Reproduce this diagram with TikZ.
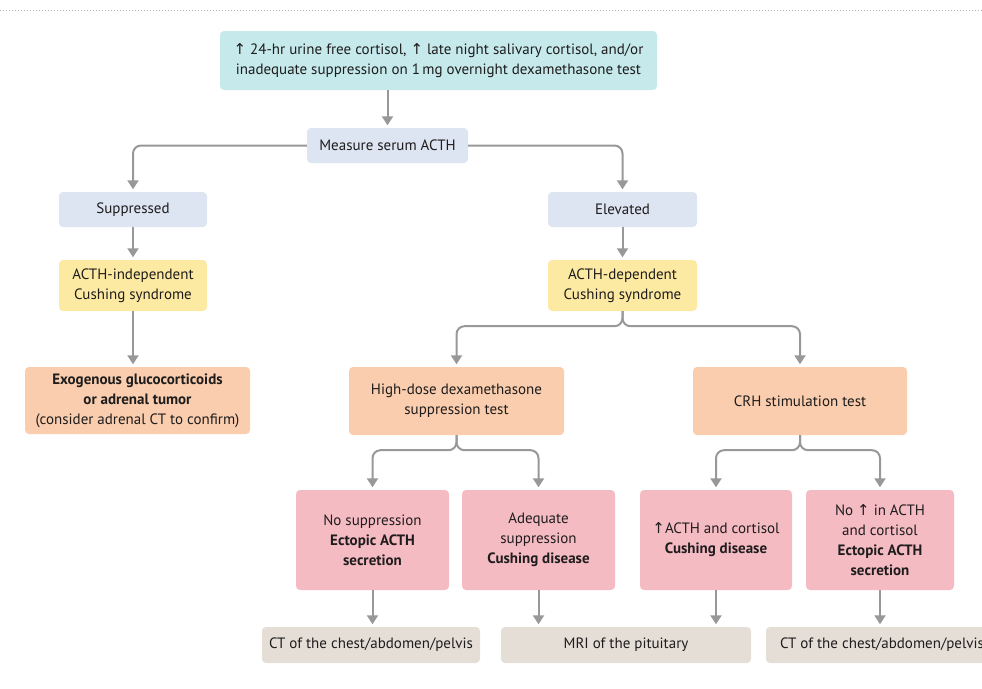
\documentclass[tikz,border=0pt]{standalone}
\usepackage{fontspec}
\setmainfont{PT Sans}
\newfontfamily\arrowfont{DejaVu Sans}
\usetikzlibrary{arrows.meta}
\definecolor{ink}{RGB}{30,28,28}
\definecolor{linegrey}{RGB}{152,152,152}
\definecolor{topfill}{RGB}{198,233,236}
\definecolor{testfill}{RGB}{221,228,242}
\definecolor{yelfill}{RGB}{253,234,162}
\definecolor{peachfill}{RGB}{249,205,173}
\definecolor{pinkfill}{RGB}{245,187,195}
\definecolor{greyfill}{RGB}{228,222,214}
\newcommand\uparr{{\arrowfont ↑}}
\tikzset{
  box/.style={rounded corners=4pt, align=center, text=ink, inner sep=2pt,
    font=\fontsize{15}{20}\selectfont},
  conn/.style={draw=linegrey, line width=2pt, rounded corners=8pt,
    -{Triangle[width=11pt,length=9pt]}, shorten >=2.5pt},
}
\begin{document}
\begin{tikzpicture}[x=1pt, y=-1pt]
\useasboundingbox (0,0) rectangle (982,688);
\draw [linegrey!70, dotted, line width=1pt] (0,10) -- (982,10);

\node[box, fill=topfill, minimum width=437pt, minimum height=59pt] (top) at (438.5,60.5)
  {\uparr\ 24-hr urine free cortisol, \uparr\ late night salivary cortisol, and/or\\
   inadequate suppression on 1\,mg overnight dexamethasone test};
\node[box, fill=testfill, minimum width=161pt, minimum height=35pt] (acth) at (387.5,145.5) {Measure serum ACTH};
\node[box, fill=testfill, minimum width=148pt, minimum height=35pt] (supp) at (133,209.5) {Suppressed};
\node[box, fill=testfill, minimum width=149pt, minimum height=35pt] (elev) at (622.5,209.5) {Elevated};
\node[box, fill=yelfill, minimum width=148pt, minimum height=51pt] (indep) at (133,285.5) {ACTH-independent\\Cushing syndrome};
\node[box, fill=yelfill, minimum width=149pt, minimum height=51pt] (dep) at (622.5,285.5) {ACTH-dependent\\Cushing syndrome};
\node[box, fill=peachfill, minimum width=225pt, minimum height=67pt] (exo) at (137.5,400.5)
  {\textbf{Exogenous glucocorticoids}\\\textbf{or adrenal tumor}\\(consider adrenal CT to confirm)};
\node[box, fill=peachfill, minimum width=215pt, minimum height=68pt] (hd) at (456.5,401) {High-dose dexamethasone\\suppression test};
\node[box, fill=peachfill, minimum width=214pt, minimum height=68pt] (crh) at (800,401) {CRH stimulation test};

\node[box, fill=pinkfill, minimum width=153pt, minimum height=100pt] (nosupp) at (372.5,540)
  {No suppression\\\textbf{Ectopic ACTH}\\\textbf{secretion}};
\node[box, fill=pinkfill, minimum width=153pt, minimum height=100pt] (adsupp) at (538.5,540)
  {Adequate\\suppression\\\textbf{Cushing disease}};
\node[box, fill=pinkfill, minimum width=152pt, minimum height=100pt] (rise) at (716,540)
  {\uparr ACTH and cortisol\\\textbf{Cushing disease}};
\node[box, fill=pinkfill, minimum width=148pt, minimum height=100pt] (norise) at (880,540)
  {No \uparr\ in ACTH\\and cortisol\\\textbf{Ectopic ACTH}\\\textbf{secretion}};

\node[box, fill=greyfill, minimum width=218pt, minimum height=36pt] (ctleft) at (371,645) {CT of the chest/abdomen/pelvis};
\node[box, fill=greyfill, minimum width=250pt, minimum height=36pt] (mri) at (626,645) {MRI of the pituitary};
\node[box, fill=greyfill, minimum width=232pt, minimum height=36pt] (ctright) at (882,645) {CT of the chest/abdomen/pelvis};

\draw[conn] (acth.north |- top.south) -- (acth.north);
\draw[conn] (acth.west) -| (supp.north);
\draw[conn] (acth.east) -| (elev.north);
\draw[conn] (supp) -- (indep);
\draw[conn] (elev) -- (dep);
\draw[conn] (indep) -- (exo.north -| indep.south);

\path (dep.south) ++(0,15) coordinate (depsplit);
\draw[conn] (dep.south) -- (depsplit) -| (hd.north);
\draw[conn] (dep.south) -- (depsplit) -| (crh.north);
\path (hd.south) ++(0,15) coordinate (hdsplit);
\draw[conn] (hd.south) -- (hdsplit) -| (nosupp.north);
\draw[conn] (hd.south) -- (hdsplit) -| (adsupp.north);
\path (crh.south) ++(0,15) coordinate (crhsplit);
\draw[conn] (crh.south) -- (crhsplit) -| (rise.north);
\draw[conn] (crh.south) -- (crhsplit) -| (norise.north);

\draw[conn] (nosupp.south) -- (nosupp.south |- ctleft.north);
\draw[conn] (adsupp.south) -- (adsupp.south |- mri.north);
\draw[conn] (rise.south) -- (rise.south |- mri.north);
\draw[conn] (norise.south) -- (norise.south |- ctright.north);
\end{tikzpicture}
\end{document}
